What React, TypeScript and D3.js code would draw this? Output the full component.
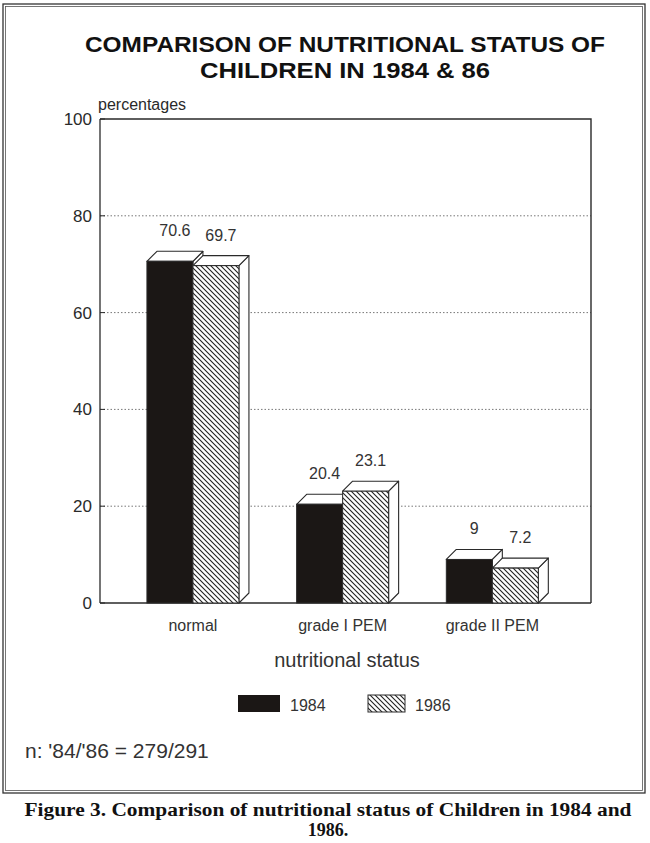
import React from 'react';
import * as d3 from 'd3';

const W = 650;
const H = 843;

// nutritional status categories and the two survey years
const categories = ['normal', 'grade I PEM', 'grade II PEM'];
const years = ['1984', '1986'];
const values1984 = [70.6, 20.4, 9];
const values1986 = [69.7, 23.1, 7.2];
const valueLabels1984 = ['70.6', '20.4', '9'];
const valueLabels1986 = ['69.7', '23.1', '7.2'];
const yTicks = [0, 20, 40, 60, 80, 100];

const titleLines = ['COMPARISON OF NUTRITIONAL STATUS OF', 'CHILDREN IN 1984 & 86'];
const captionLines = ['Figure 3. Comparison of nutritional status of Children in 1984 and', '1986.'];

const LEFT = 100;
const RIGHT = 591;
const TOP = 119;
const BOTTOM = 603;
const DX = 10;
const DY = 10;
const INK = '#2a2a2a';
const SANS = '"Liberation Sans", Arial, Helvetica, sans-serif';

function App() {
  const y = d3.scaleLinear().domain([0, 100]).range([BOTTOM, TOP]);
  const x = d3.scalePoint<string>().domain(categories).range([LEFT, RIGHT]).padding(0.64).align(0.485);
  const inner = d3.scaleBand<string>().domain(years).range([-46, 46]);
  const bw = inner.bandwidth();
  const series = [values1984, values1986];
  const labels = [valueLabels1984, valueLabels1986];

  const bar = (cat: string, yi: number, v: number) => {
    const x0 = (x(cat) as number) + (inner(years[yi]) as number);
    const y0 = y(v);
    const yb = y(0);
    const front = yi === 0 ? '#1b1715' : 'url(#hatch)';
    const top = `M${x0},${y0} L${x0 + DX},${y0 - DY} L${x0 + bw + DX},${y0 - DY} L${x0 + bw},${y0} Z`;
    const side = `M${x0 + bw},${y0} L${x0 + bw + DX},${y0 - DY} L${x0 + bw + DX},${yb - DY} L${x0 + bw},${yb} Z`;
    return (
      <g key={`${cat}-${yi}`}>
        <path d={side} fill="#fff" stroke={INK} strokeWidth={1.1} strokeLinejoin="round" />
        <path d={top} fill="#fff" stroke={INK} strokeWidth={1.1} strokeLinejoin="round" />
        <rect x={x0} y={y0} width={bw} height={yb - y0} fill={front} stroke={INK} strokeWidth={1} />
      </g>
    );
  };

  return (
    <svg width={W} height={H} viewBox={`0 0 ${W} ${H}`} style={{ position: 'absolute', left: 0, top: 0, background: '#fff' }}>
      <defs>
        <pattern id="hatch" patternUnits="userSpaceOnUse" width={5} height={5}>
          <rect width={5} height={5} fill="#fff" />
          <path d="M-1,-1 L6,6 M-1,4 L1,6 M4,-1 L6,1" stroke="#222" strokeWidth={1.1} />
        </pattern>
      </defs>

      {/* outer frame */}
      <rect x={3} y={4} width={642} height={789} fill="none" stroke="#333" strokeWidth={1.3} />
      <rect x={5.5} y={6.5} width={637} height={784} fill="none" stroke="#555" strokeWidth={0.8} />

      {/* title */}
      {titleLines.map((t, i) => (
        <text
          key={t}
          x={345}
          y={52 + i * 26}
          textAnchor="middle"
          fontFamily={SANS}
          fontWeight="bold"
          fontSize={22}
          fill="#111"
          textLength={i === 0 ? 520 : 290}
          lengthAdjust="spacingAndGlyphs"
        >
          {t}
        </text>
      ))}

      <text x={98} y={110} fontFamily={SANS} fontSize={16} fill={INK}>
        percentages
      </text>

      {/* grid */}
      {yTicks
        .filter((t) => t > 0 && t < 100)
        .map((t) => (
          <line key={`g${t}`} x1={LEFT} x2={RIGHT} y1={y(t)} y2={y(t)} stroke="#777" strokeWidth={1} strokeDasharray="1.5 2" />
        ))}

      {/* plot frame */}
      <path d={`M${LEFT},${TOP} L${RIGHT},${TOP} L${RIGHT},${BOTTOM}`} fill="none" stroke={INK} strokeWidth={1.4} />
      <line x1={LEFT} x2={RIGHT} y1={BOTTOM} y2={BOTTOM} stroke={INK} strokeWidth={1.4} />
      <line x1={LEFT} x2={LEFT} y1={TOP} y2={BOTTOM} stroke={INK} strokeWidth={1.3} />

      {/* y ticks */}
      {yTicks.map((t) => (
        <g key={`t${t}`}>
          <line x1={LEFT} x2={LEFT + 5} y1={y(t)} y2={y(t)} stroke={INK} strokeWidth={1} />
          <text x={LEFT - 8} y={y(t) + 6} textAnchor="end" fontFamily={SANS} fontSize={17} fill={INK}>
            {t}
          </text>
        </g>
      ))}

      {/* bars */}
      {categories.map((c, ci) => (
        <g key={c}>
          {series.map((s, yi) => bar(c, yi, s[ci]))}
          {series.map((s, yi) => (
            <text
              key={`l${yi}`}
              x={(x(c) as number) + (inner(years[yi]) as number) + bw / 2 + DX / 2}
              y={y(s[ci]) - DY - 15}
              textAnchor="middle"
              fontFamily={SANS}
              fontSize={16}
              fill="#333"
            >
              {labels[yi][ci]}
            </text>
          ))}
          <text x={x(c) as number} y={631} textAnchor="middle" fontFamily={SANS} fontSize={16} fill="#333">
            {c}
          </text>
        </g>
      ))}

      <text x={347} y={667} textAnchor="middle" fontFamily={SANS} fontSize={20} fill="#333">
        nutritional status
      </text>

      {/* legend */}
      <rect x={238} y={695} width={42} height={17} fill="#1b1715" />
      <text x={290} y={711} fontFamily={SANS} fontSize={16} fill="#333">
        {years[0]}
      </text>
      <rect x={368} y={695} width={37} height={17} fill="url(#hatch)" stroke={INK} strokeWidth={1} />
      <text x={415} y={711} fontFamily={SANS} fontSize={16} fill="#333">
        {years[1]}
      </text>

      <text x={25} y={758} fontFamily={SANS} fontSize={21} fill="#333">
        n: '84/'86 = 279/291
      </text>

      {/* caption */}
      {captionLines.map((t, i) => (
        <text
          key={t}
          x={328}
          y={816 + i * 20}
          textAnchor="middle"
          fontFamily='"Liberation Serif", "Times New Roman", serif'
          fontWeight="bold"
          fontSize={18}
          fill="#111"
          textLength={i === 0 ? 607 : undefined}
          lengthAdjust={i === 0 ? 'spacingAndGlyphs' : undefined}
        >
          {t}
        </text>
      ))}
    </svg>
  );
}

export default App;
